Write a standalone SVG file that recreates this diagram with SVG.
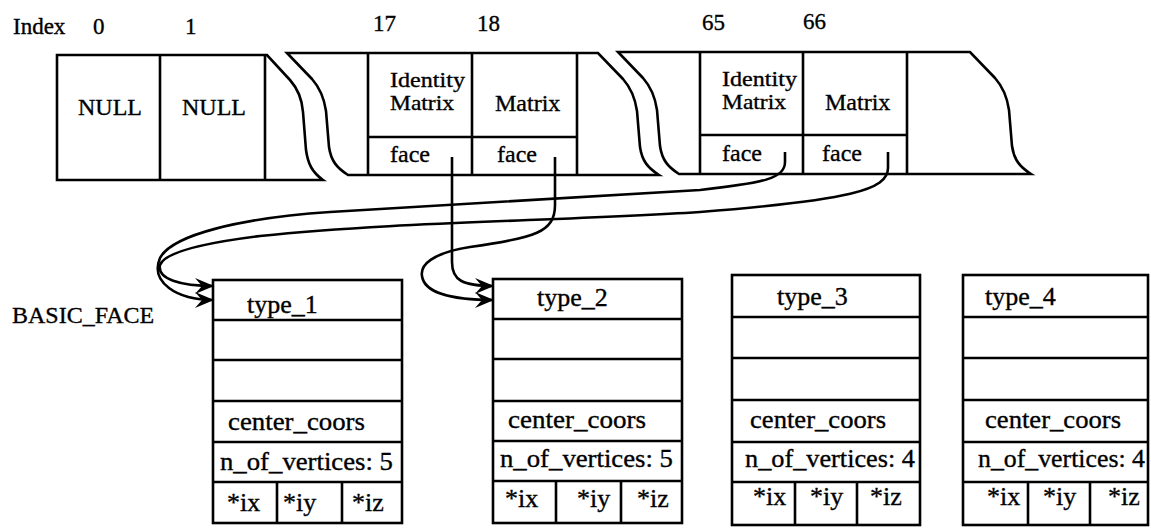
<svg xmlns="http://www.w3.org/2000/svg" width="1151" height="529" viewBox="0 0 1151 529">
  <defs>
    <style>
      .ln { fill: none; stroke: #000; stroke-width: 2.6; stroke-linejoin: round; }
      .box { fill: #fff; stroke: #000; stroke-width: 2.6; }
      .wire { fill: none; stroke: #000; stroke-width: 2.6; marker-end: url(#barb); }
      text { font-family: "Liberation Serif", "Times New Roman", serif; fill: #000; stroke: #000; stroke-width: 0.35; }
      .idx { font-size: 23px; }
      .cell { font-size: 24px; }
      .cell2 { font-size: 22px; }
      .fld { font-size: 26px; }
      .lbl { font-size: 24px; }
    </style>
    <marker id="barb" markerUnits="userSpaceOnUse" markerWidth="20" markerHeight="16" refX="19" refY="8" orient="auto">
      <path d="M0,0 L19,8 L0,16 L7,8 Z" fill="#000"/>
    </marker>
  </defs>

  <!-- index labels above the array -->
  <g id="index-labels">
    <text class="idx" x="13" y="34">Index</text>
    <text class="idx" x="93" y="34">0</text>
    <text class="idx" x="185" y="34">1</text>
    <text class="idx" x="373" y="31">17</text>
    <text class="idx" x="477" y="31">18</text>
    <text class="idx" x="702" y="30">65</text>
    <text class="idx" x="803" y="29">66</text>
  </g>

  <!-- array segment: indices 0 and 1 -->
  <g id="array-head">
    <path class="box" d="M57,55 H267 l23,25 c8,9 12,18 13,32 l3,38 c2,14 6,22 17,30 H57 Z"/>
    <path class="ln" d="M160,55 V180 M265,55 V180"/>
    <text class="cell" x="78" y="115">NULL</text>
    <text class="cell" x="182" y="115">NULL</text>
  </g>

  <!-- array segment: indices 17 and 18 -->
  <g id="array-mid">
    <path class="box" d="M287,53 H598 l25,26 c8,9 12,18 14,32 l3,36 c2,14 8,21 19,28 H348 c-11,-7 -17,-14 -19,-28 l-3,-36 c-2,-14 -6,-23 -14,-32 Z"/>
    <path class="ln" d="M368,53 V175 M472,53 V175 M577,53 V175 M368,137 H577"/>
    <text class="cell2" x="390" y="87" textLength="75" lengthAdjust="spacingAndGlyphs">Identity</text>
    <text class="cell2" x="390" y="110" textLength="64" lengthAdjust="spacingAndGlyphs">Matrix</text>
    <text class="cell" x="495" y="111">Matrix</text>
    <text class="cell" x="390" y="162">face</text>
    <text class="cell" x="497" y="162">face</text>
  </g>

  <!-- array segment: indices 65 and 66 -->
  <g id="array-tail">
    <path class="box" d="M618,52 H970 l25,26 c8,9 12,18 14,32 l3,36 c2,14 8,21 19,28 H679 c-11,-7 -17,-14 -19,-28 l-3,-36 c-2,-14 -6,-23 -14,-32 Z"/>
    <path class="ln" d="M700,52 V174 M803,52 V174 M907,52 V174 M700,135 H907"/>
    <text class="cell2" x="722" y="86" textLength="75" lengthAdjust="spacingAndGlyphs">Identity</text>
    <text class="cell2" x="722" y="109" textLength="64" lengthAdjust="spacingAndGlyphs">Matrix</text>
    <text class="cell" x="825" y="110">Matrix</text>
    <text class="cell" x="722" y="161">face</text>
    <text class="cell" x="822" y="161">face</text>
  </g>

  <text id="basic-face-label" class="lbl" x="12" y="323">BASIC_FACE</text>

  <!-- BASIC_FACE records -->
  <g id="face-type1">
    <rect class="box" x="213" y="280" width="189" height="243"/>
    <path class="ln" d="M213,320 H402 M213,360 H402 M213,401 H402 M213,442 H402 M213,482 H402 M277,482 V523 M342,482 V523"/>
    <text class="fld" x="247" y="313">type_1</text>
    <text class="fld" x="228" y="430" textLength="137" lengthAdjust="spacingAndGlyphs">center_coors</text>
    <text class="fld" x="220" y="470" textLength="173" lengthAdjust="spacingAndGlyphs">n_of_vertices: 5</text>
    <text class="fld" x="227" y="511">*ix</text>
    <text class="fld" x="283" y="511">*iy</text>
    <text class="fld" x="352" y="511">*iz</text>
  </g>

  <g id="face-type2">
    <rect class="box" x="493" y="279" width="189" height="244"/>
    <path class="ln" d="M493,319 H682 M493,359 H682 M493,401 H682 M493,441 H682 M493,481 H682 M556,481 V523 M621,481 V523"/>
    <text class="fld" x="537" y="306">type_2</text>
    <text class="fld" x="508" y="428" textLength="138" lengthAdjust="spacingAndGlyphs">center_coors</text>
    <text class="fld" x="500" y="467" textLength="173" lengthAdjust="spacingAndGlyphs">n_of_vertices: 5</text>
    <text class="fld" x="505" y="507">*ix</text>
    <text class="fld" x="577" y="507">*iy</text>
    <text class="fld" x="637" y="507">*iz</text>
  </g>

  <g id="face-type3">
    <rect class="box" x="732" y="275" width="188" height="250"/>
    <path class="ln" d="M732,317 H920 M732,358 H920 M732,400 H920 M732,442 H920 M732,482 H920 M795,482 V525 M857,482 V525"/>
    <text class="fld" x="777" y="305">type_3</text>
    <text class="fld" x="750" y="428" textLength="136" lengthAdjust="spacingAndGlyphs">center_coors</text>
    <text class="fld" x="745" y="467" textLength="170" lengthAdjust="spacingAndGlyphs">n_of_vertices: 4</text>
    <text class="fld" x="753" y="505">*ix</text>
    <text class="fld" x="810" y="505">*iy</text>
    <text class="fld" x="870" y="505">*iz</text>
  </g>

  <g id="face-type4">
    <rect class="box" x="963" y="275" width="185" height="250"/>
    <path class="ln" d="M963,317 H1148 M963,358 H1148 M963,400 H1148 M963,442 H1148 M963,482 H1148 M1028,482 V525 M1090,482 V525"/>
    <text class="fld" x="985" y="305">type_4</text>
    <text class="fld" x="985" y="428" textLength="136" lengthAdjust="spacingAndGlyphs">center_coors</text>
    <text class="fld" x="978" y="467" textLength="167" lengthAdjust="spacingAndGlyphs">n_of_vertices: 4</text>
    <text class="fld" x="987" y="505">*ix</text>
    <text class="fld" x="1043" y="505">*iy</text>
    <text class="fld" x="1108" y="505">*iz</text>
  </g>

  <!-- face pointers from the array into the records -->
  <g id="connectors">
    <path class="wire" d="M452,157 V262 C452,280 462,286 494,286"/>
    <path class="wire" d="M555,157 V205 C555,232 535,238 470,247 C432,253 420,265 422,276 C424,292 450,300 494,300"/>
    <path class="wire" d="M785,152 V162 C785,178 765,183 700,190 L330,212 C240,218 172,235 160,258 C150,282 176,300 214,300"/>
    <path class="wire" d="M888,152 V168 C888,190 850,200 700,212 C560,221 390,222 260,236 C195,244 164,254 160,265 C157,279 180,286 214,286"/>
  </g>
</svg>
